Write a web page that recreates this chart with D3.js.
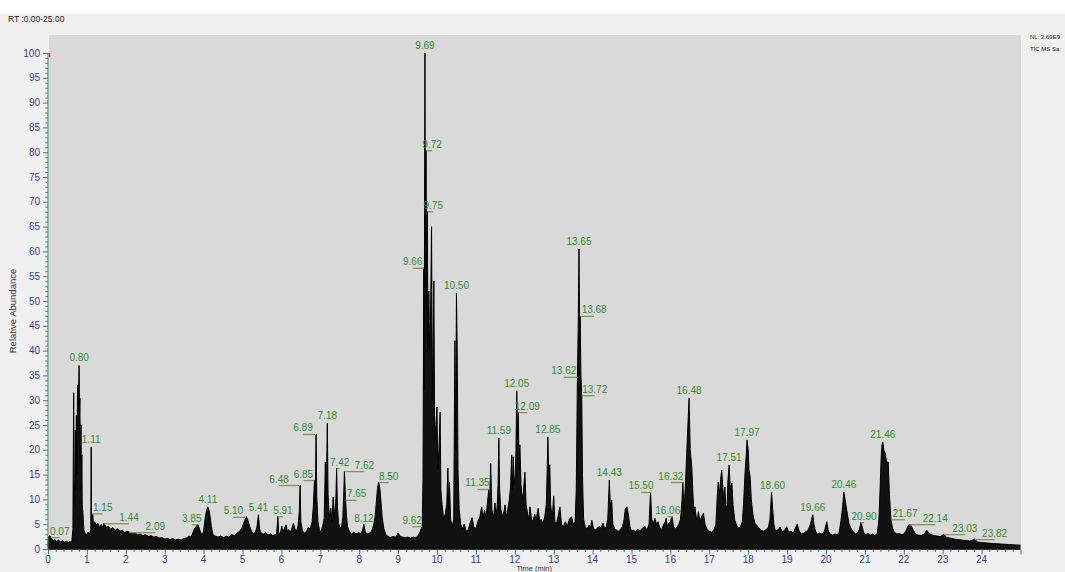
<!DOCTYPE html>
<html>
<head>
<meta charset="utf-8">
<script src="https://cdn.jsdelivr.net/npm/d3@7/dist/d3.min.js"></script>
<style>
  body { margin: 0; background: #fff; }
  text { font-family: "Liberation Sans", Arial, sans-serif; }
</style>
</head>
<body>
<svg width="1065" height="572"></svg>
<script>
// chromatogram trace: [retention time (min), relative abundance (%)]
const trace = [
  [0.00,0.4],[0.01,2.4],[0.04,2.7],[0.07,2.5],[0.10,2.0],[0.14,1.7],[0.18,1.9],[0.22,1.5],[0.27,1.8],[0.32,1.4],
  [0.37,1.7],[0.42,1.4],[0.47,1.6],[0.52,1.3],[0.57,1.5],[0.61,1.3],[0.64,4],[0.66,31.5],[0.67,9],[0.69,14],
  [0.70,24],[0.71,12],[0.73,27],[0.74,15],[0.76,33],[0.78,29],[0.80,37],[0.81,27],[0.82,30.4],[0.83,18],
  [0.85,25],[0.86,12],[0.87,19],[0.88,9],[0.90,7],[0.92,4],[0.95,3.2],[0.99,2.8],[1.03,3.4],[1.07,3.0],
  [1.10,4],[1.11,20.6],[1.12,4.5],[1.15,7],[1.17,4.5],[1.20,5.5],[1.24,4.8],[1.28,5.2],[1.32,4.5],[1.37,5.0],
  [1.41,4.3],[1.44,5.2],[1.49,4.4],[1.55,4.6],[1.61,4.0],[1.67,4.3],[1.73,3.8],[1.79,4.1],[1.85,3.6],[1.91,3.8],
  [1.97,3.3],[2.03,3.6],[2.09,3.4],[2.16,3.1],[2.23,3.3],[2.30,2.9],[2.37,3.0],[2.44,2.7],[2.51,2.9],[2.58,2.5],
  [2.65,2.7],[2.72,2.4],[2.79,2.5],[2.86,2.2],[2.93,2.3],[3.00,2.0],[3.07,2.1],[3.14,1.9],[3.21,2.1],[3.28,1.8],
  [3.35,2.0],[3.42,1.8],[3.49,2.1],[3.56,2.2],[3.62,2.6],[3.68,2.4],[3.73,3.4],[3.78,4.3],[3.82,4.6],[3.85,5.0],
  [3.88,4.4],[3.92,3.4],[3.96,2.8],[4.00,3.6],[4.04,6.2],[4.07,7.6],[4.11,8.5],[4.14,7.8],[4.17,6.4],[4.20,4.5],
  [4.24,3.0],[4.30,2.6],[4.37,2.4],[4.44,2.6],[4.51,2.3],[4.58,2.6],[4.65,2.4],[4.72,2.9],[4.79,2.7],[4.86,3.2],
  [4.93,3.6],[4.99,4.3],[5.04,5.4],[5.10,6.5],[5.14,5.8],[5.18,4.6],[5.23,3.6],[5.28,3.0],[5.33,3.4],[5.37,4.4],
  [5.41,6.9],[5.44,4.0],[5.48,3.2],[5.54,3.0],[5.60,3.3],[5.66,2.8],[5.72,3.1],[5.78,2.7],[5.84,2.9],[5.88,3.2],
  [5.91,6.6],[5.93,3.4],[5.97,3.0],[6.01,4.6],[6.04,3.4],[6.08,4.2],[6.12,4.9],[6.15,3.6],[6.19,3.9],[6.23,3.3],
  [6.27,4.2],[6.31,5.2],[6.35,4.0],[6.39,3.6],[6.43,4.8],[6.46,7.5],[6.48,12.9],[6.50,5.5],[6.54,3.7],[6.59,3.2],
  [6.64,3.5],[6.69,4.3],[6.74,4.0],[6.79,5.5],[6.82,8.5],[6.85,13.9],[6.87,9],[6.89,23.2],[6.91,10.5],[6.94,5.5],
  [6.98,3.8],[7.02,3.5],[7.06,4.6],[7.10,6.2],[7.13,17.5],[7.15,8.5],[7.18,25.4],[7.20,11],[7.23,6.5],[7.27,8.2],
  [7.30,5.5],[7.33,10.5],[7.36,6.2],[7.40,10.2],[7.42,16.3],[7.44,8.5],[7.47,5.2],[7.51,4.2],[7.55,4.6],[7.58,6.5],
  [7.60,10.5],[7.62,15.7],[7.65,9.9],[7.67,7.2],[7.70,4.5],[7.75,3.5],[7.80,3.0],[7.86,3.4],[7.92,3.0],[7.98,3.3],
  [8.04,3.1],[8.09,3.8],[8.12,5.0],[8.15,3.6],[8.20,3.0],[8.26,3.2],[8.32,3.6],[8.37,4.8],[8.41,6.5],[8.44,9.5],
  [8.47,12.2],[8.50,13.5],[8.53,12.3],[8.56,9.6],[8.59,6.5],[8.63,4.2],[8.68,3.0],[8.74,2.5],[8.80,2.3],[8.87,2.5],
  [8.94,2.4],[9.00,3.2],[9.05,2.6],[9.11,2.4],[9.18,2.3],[9.25,2.4],[9.32,2.2],[9.39,2.4],[9.45,2.3],[9.51,2.6],
  [9.56,3.4],[9.60,4.2],[9.62,4.6],[9.64,14],[9.66,56.7],[9.67,32],[9.69,100],[9.70,62],[9.72,80.4],[9.73,48],
  [9.75,68.1],[9.77,40.5],[9.79,52],[9.81,40],[9.83,44],[9.86,65],[9.88,30],[9.92,54],[9.94,22],[9.97,25],
  [10.00,28.6],[10.02,16],[10.05,20],[10.08,27.6],[10.10,12],[10.13,9],[10.17,6],[10.21,7],[10.25,9],[10.28,16.3],
  [10.30,8],[10.32,13.5],[10.35,6],[10.39,4.5],[10.43,6],[10.46,42],[10.48,20],[10.50,51.6],[10.52,40],[10.54,16],
  [10.57,8],[10.61,5],[10.65,4],[10.70,5],[10.75,3.6],[10.80,3.8],[10.85,5.2],[10.90,6.3],[10.95,4.4],[11.00,4.1],
  [11.05,5.5],[11.10,6.5],[11.15,8.5],[11.18,6.2],[11.22,7.8],[11.26,6.5],[11.30,9.5],[11.33,12.1],[11.35,9],[11.38,17.3],
  [11.41,8],[11.45,6],[11.49,9.3],[11.52,6.5],[11.55,9],[11.57,13],[11.59,22.4],[11.61,12],[11.64,8],[11.68,6.5],
  [11.72,7.5],[11.75,8.9],[11.78,6.5],[11.82,8],[11.86,10],[11.89,12.5],[11.92,19],[11.94,12],[11.96,18.6],[11.98,13],
  [12.01,15],[12.03,20],[12.05,31.9],[12.07,22],[12.09,27.6],[12.11,16],[12.13,21],[12.16,13],[12.19,10],[12.22,11.5],
  [12.26,15.5],[12.29,9],[12.33,7],[12.36,6],[12.39,8.5],[12.43,6],[12.47,5.5],[12.51,7],[12.55,6],[12.60,8.2],
  [12.64,5.5],[12.68,6],[12.72,5],[12.77,6.5],[12.81,9],[12.83,15],[12.85,22.6],[12.87,16],[12.90,17],[12.92,9],
  [12.96,6],[13.00,10.7],[13.03,5.5],[13.07,5],[13.11,6.5],[13.16,8.5],[13.20,5],[13.25,4.5],[13.30,5.5],[13.35,4.5],
  [13.40,6],[13.46,6.5],[13.50,5],[13.55,5.5],[13.58,12],[13.61,34.7],[13.63,45],[13.65,60.5],[13.67,40],[13.68,47],
  [13.70,35],[13.72,31],[13.74,15],[13.75,11.5],[13.77,6],[13.81,4.5],[13.86,4],[13.91,4.8],[13.95,4.4],[13.98,5.8],
  [14.02,4.2],[14.07,3.8],[14.12,4.2],[14.17,4.6],[14.22,4.3],[14.27,5.2],[14.31,4.0],[14.35,4.5],[14.39,6],[14.43,13.9],
  [14.46,8],[14.49,9.9],[14.52,5],[14.57,4],[14.62,3.8],[14.67,3.6],[14.72,4.0],[14.77,4.5],[14.81,6],[14.84,8],
  [14.88,8.5],[14.92,7],[14.96,4.5],[15.00,3.6],[15.05,3.8],[15.10,3.5],[15.16,4],[15.22,3.6],[15.28,4.2],[15.35,4.5],
  [15.40,3.8],[15.45,5],[15.49,11.5],[15.52,6],[15.56,5],[15.60,6.2],[15.64,5],[15.68,5.5],[15.73,4.2],[15.78,4],
  [15.83,5],[15.87,5.5],[15.89,6.2],[15.92,4.5],[15.96,5.2],[16.00,5.5],[16.04,6.6],[16.08,4.5],[16.13,4],[16.18,4.5],
  [16.22,5],[16.26,6],[16.30,10],[16.32,13.5],[16.35,8],[16.38,12],[16.42,19.4],[16.45,25],[16.48,30.4],[16.51,20],
  [16.55,16.5],[16.58,11],[16.61,7],[16.63,8.5],[16.67,6],[16.70,6.5],[16.72,7.5],[16.76,5.5],[16.80,6.5],[16.85,7.2],
  [16.89,5],[16.94,4],[17.00,3.6],[17.06,3.4],[17.12,3.8],[17.17,5],[17.20,10],[17.23,13.5],[17.26,11],[17.29,14],
  [17.32,15.9],[17.35,12],[17.37,10],[17.40,12.5],[17.43,8],[17.46,9],[17.48,14],[17.51,16.9],[17.54,12],[17.58,13.3],
  [17.61,9],[17.65,6],[17.70,4.8],[17.75,4.2],[17.80,4.5],[17.85,5.5],[17.88,9],[17.92,15.5],[17.95,19],[17.97,22],
  [18.00,20],[18.02,16],[18.05,14.5],[18.08,10],[18.12,7],[18.17,5.2],[18.22,4.8],[18.28,4.2],[18.34,3.7],[18.40,3.6],
  [18.46,3.9],[18.52,4.4],[18.56,6],[18.60,11.5],[18.63,8],[18.66,5],[18.70,3.6],[18.76,3.8],[18.82,4.4],[18.87,3.5],
  [18.93,3.7],[18.99,4.5],[19.04,3.4],[19.10,3.6],[19.16,3.2],[19.21,4.2],[19.26,5],[19.31,3.6],[19.37,3.0],[19.43,3.2],
  [19.49,3.5],[19.55,4],[19.60,5],[19.63,6],[19.66,6.9],[19.69,5],[19.73,3.6],[19.78,3.0],[19.84,3.2],[19.90,3.0],
  [19.96,3.6],[20.02,5.5],[20.06,3.6],[20.11,3.0],[20.17,2.8],[20.23,3.0],[20.29,2.9],[20.34,3.4],[20.38,5.5],[20.42,8],
  [20.46,11.5],[20.49,10],[20.52,8.5],[20.55,7],[20.59,5.2],[20.64,4.2],[20.70,3.5],[20.76,3.0],[20.82,3.3],[20.86,4],
  [20.90,5.4],[20.93,4.5],[20.97,3.2],[21.02,2.9],[21.08,3.1],[21.14,2.8],[21.20,3.0],[21.26,2.7],[21.32,3.2],[21.36,6],
  [21.39,12],[21.42,19],[21.44,21],[21.46,21.6],[21.49,19.8],[21.52,19.4],[21.56,17.5],[21.60,17.5],[21.63,11],[21.67,6],
  [21.71,4.2],[21.76,3.4],[21.82,3.0],[21.88,3.1],[21.94,2.9],[22.00,3.0],[22.05,3.6],[22.09,4.3],[22.14,5],[22.19,4.7],
  [22.24,3.8],[22.30,3.0],[22.37,2.8],[22.44,2.7],[22.50,2.9],[22.55,3.3],[22.59,3.8],[22.64,3.2],[22.70,2.9],[22.78,2.7],
  [22.86,2.6],[22.94,2.5],[23.03,3.0],[23.10,2.3],[23.20,2.2],[23.30,2.0],[23.40,1.9],[23.50,1.8],[23.60,1.7],[23.70,1.6],
  [23.82,2.0],[23.90,1.4],[24.00,1.3],[24.15,1.2],[24.30,1.1],[24.50,1.0],[24.70,0.9],[24.90,0.8],[25.00,0.8]
];

// labelled peaks: retention time and the abundance where the label sits
const peakRT = [0.07,0.80,1.11,1.15,1.44,2.09,3.85,4.11,5.10,5.41,5.91,6.48,6.85,6.89,7.18,7.42,7.62,7.65,8.12,8.50,
  9.62,9.66,9.69,9.72,9.75,10.50,11.35,11.59,12.05,12.09,12.85,13.62,13.65,13.68,13.72,14.43,15.50,16.06,16.32,16.48,
  17.51,17.97,18.60,19.66,20.46,20.90,21.46,21.67,22.14,23.03,23.82];
const peakLevel = [2.4,37,20.6,7.2,5.2,3.4,5.0,8.5,6.5,6.9,6.6,12.9,13.9,23.2,25.4,16.3,15.7,9.9,4.6,13.5,
  4.6,56.7,100,80.4,68.1,51.6,12.1,22.4,31.9,27.6,22.6,34.7,60.5,47,31,13.9,11.5,6.6,13.5,30.4,
  16.9,22,11.5,6.9,11.5,5.4,21.6,6,5,3,2];
// horizontal offset of each label from its peak (px), layout only
const labelDx = [9,0,0,10,25,26,-6,0,-13,0,5,-21,-11,-13,0,3,20,11,0,10,
  -10,-11,0,6,6,0,-12,0,0,9,0,-14,0,14,13,0,-10,-5,-12,0,
  0,0,1,0,0,3,0,14,26,21,20];

const xTicks = d3.range(0, 25, 1);
const yTicks = d3.range(0, 101, 5);

const svg = d3.select('svg');
const W = 1065, H = 572;

svg.append('rect').attr('width', W).attr('height', H).attr('fill', '#fff');
svg.append('rect').attr('y', 14).attr('width', W).attr('height', H - 14).attr('fill', '#f0f0f0');

const x = d3.scaleLinear().domain([0, 25]).range([48, 1020.5]);
const y = d3.scaleLinear().domain([0, 100]).range([549, 53]);

svg.append('rect')
  .attr('x', 49).attr('y', 35)
  .attr('width', 1021 - 49).attr('height', 549 - 35)
  .attr('fill', '#d9d9d9');

// trace
const area = d3.area()
  .x(d => x(d[0]))
  .y0(y(0))
  .y1(d => y(d[1]));
const line = d3.line()
  .x(d => x(d[0]))
  .y(d => y(d[1]));

svg.append('path')
  .datum(trace)
  .attr('d', area)
  .attr('fill', '#111');
svg.append('path')
  .datum(trace)
  .attr('d', line)
  .attr('fill', 'none')
  .attr('stroke', '#000')
  .attr('stroke-width', 1);

// axes
const tickColor = '#4a7a70';
const labColor = '#3c3c96';

const yAxis = svg.append('g')
  .attr('transform', 'translate(48,0)')
  .call(d3.axisLeft(y).tickValues(d3.range(0, 101, 1)).tickSize(2.5).tickFormat(''));
yAxis.selectAll('.tick line').filter(d => d % 5 === 0).attr('x2', -5);
yAxis.selectAll('line, path').attr('stroke', tickColor);
yAxis.select('.domain').attr('d', `M0,${y(100)}V${y(0)}`);

svg.append('g').selectAll('text')
  .data(yTicks)
  .join('text')
  .attr('x', 40)
  .attr('y', d => y(d) + 3.5)
  .attr('text-anchor', 'end')
  .attr('font-size', 10)
  .attr('fill', labColor)
  .text(d => d);

const xAxis = svg.append('g')
  .attr('transform', 'translate(0,549.5)')
  .call(d3.axisBottom(x).tickValues(d3.range(0, 25.01, 0.2)).tickSize(2.5).tickFormat(''));
xAxis.selectAll('.tick line').filter(d => Math.abs(d - Math.round(d)) < 1e-6).attr('y2', 5);
xAxis.selectAll('line').attr('stroke', tickColor);
xAxis.select('.domain').attr('stroke', '#333').attr('d', `M48,0H${x(25)}`);

svg.append('g').selectAll('text')
  .data(xTicks)
  .join('text')
  .attr('x', d => x(d))
  .attr('y', 562.5)
  .attr('text-anchor', 'middle')
  .attr('font-size', 10)
  .attr('fill', labColor)
  .text(d => d);

// red marker at the top of the scale
svg.append('line')
  .attr('x1', 49.5).attr('x2', 49.5)
  .attr('y1', y(100)).attr('y2', y(100) + 4)
  .attr('stroke', '#e03030').attr('stroke-width', 1.5);

// peak labels
const labels = svg.append('g');
peakRT.forEach((t, i) => {
  const px = x(t), py = y(peakLevel[i]), dx = labelDx[i];
  if (dx !== 0) {
    labels.append('line')
      .attr('x1', px).attr('x2', px + dx)
      .attr('y1', py + 0.5).attr('y2', py + 0.5)
      .attr('stroke', '#8c8c5e').attr('stroke-width', 1.3);
  }
  labels.append('text')
    .attr('x', px + dx)
    .attr('y', py - (dx === 0 ? 4 : 2.5))
    .attr('text-anchor', 'middle')
    .attr('font-size', 10)
    .attr('fill', '#2f8a2f')
    .text(t.toFixed(2));
});

// titles
svg.append('text')
  .attr('x', 8).attr('y', 22)
  .attr('font-size', 8.5)
  .attr('fill', '#222')
  .text('RT :0.00-25.00');

svg.append('text')
  .attr('x', 1030).attr('y', 39)
  .attr('font-size', 6)
  .attr('fill', '#222')
  .text('NL: 2.69E9');
svg.append('text')
  .attr('x', 1030).attr('y', 51)
  .attr('font-size', 6)
  .attr('fill', '#222')
  .text('TIC MS Sa');

svg.append('text')
  .attr('transform', 'translate(16,311) rotate(-90)')
  .attr('text-anchor', 'middle')
  .attr('font-size', 9.5)
  .attr('fill', '#333')
  .text('Relative Abundance');

svg.append('text')
  .attr('x', x(12.5)).attr('y', 571)
  .attr('text-anchor', 'middle')
  .attr('font-size', 7.5)
  .attr('fill', '#333')
  .text('Time (min)');
</script>
</body>
</html>
